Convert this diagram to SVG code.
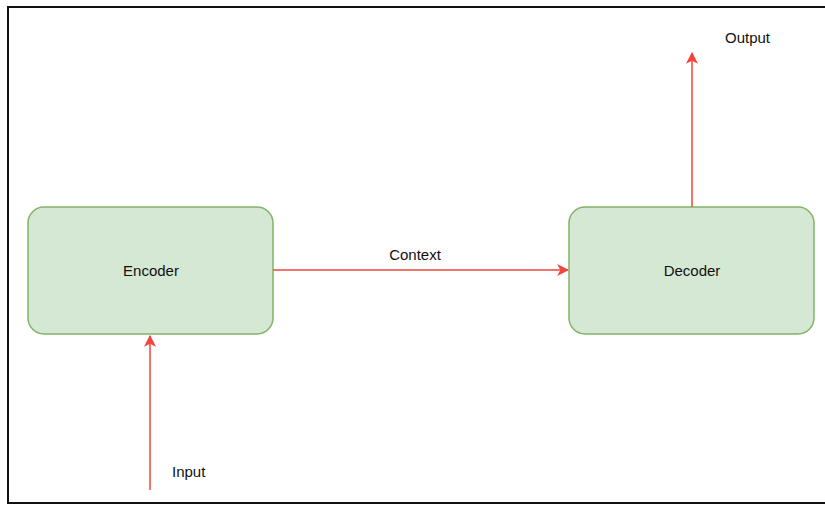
<svg xmlns="http://www.w3.org/2000/svg" width="825" height="506" viewBox="0 0 825 506">
<style>
.node{fill:#d5e8d4;stroke:#82b366;stroke-width:1.5}
.lbl{font-family:"Liberation Sans",Arial,sans-serif;font-size:15px;fill:#111}
.edge{stroke:#f0463c;stroke-width:1.5;fill:none}
</style>
<defs>
<marker id="arr" viewBox="0 0 10 10" refX="9" refY="5" markerWidth="12" markerHeight="12" markerUnits="userSpaceOnUse" orient="auto">
<path d="M0,0 L10,5 L0,10 L2.5,5 Z" fill="#f0463c"/>
</marker>
</defs>
<rect x="0" y="0" width="825" height="506" fill="#fff"/>
<rect x="8" y="7" width="830" height="496" fill="none" stroke="#111" stroke-width="2"/>
<g id="encoder">
<rect class="node" x="28" y="207" width="245" height="127" rx="16"/>
<text class="lbl" x="151" y="276" text-anchor="middle">Encoder</text>
</g>
<g id="decoder">
<rect class="node" x="569" y="207" width="245" height="127" rx="16"/>
<text class="lbl" x="692" y="276" text-anchor="middle">Decoder</text>
</g>
<g id="connectors">
<line class="edge" x1="273" y1="270" x2="568" y2="270" marker-end="url(#arr)"/>
<line class="edge" x1="150" y1="490" x2="150" y2="336" marker-end="url(#arr)"/>
<line class="edge" x1="692" y1="207" x2="692" y2="53" marker-end="url(#arr)"/>
</g>
<text class="lbl" x="415" y="260" text-anchor="middle">Context</text>
<text class="lbl" x="172" y="477">Input</text>
<text class="lbl" x="725" y="43">Output</text>
</svg>
